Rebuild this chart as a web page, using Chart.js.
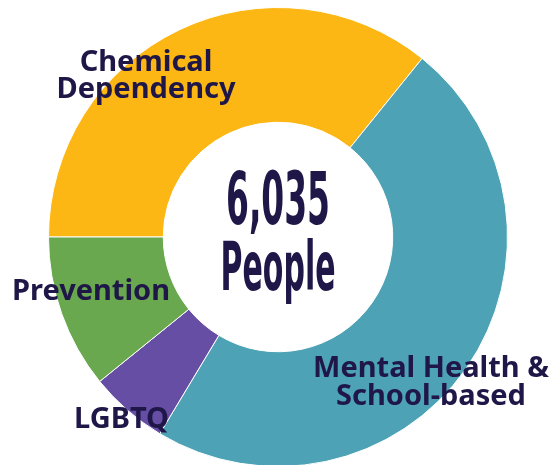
<!DOCTYPE html>
<html>
<head>
<meta charset="utf-8">
<script src="https://cdn.jsdelivr.net/npm/chart.js@4"></script>
<style>
  html, body { margin: 0; padding: 0; background: #fff; overflow: hidden; }
  .chart-container { position: relative; width: 551px; height: 470px; }
</style>
</head>
<body>
<div class="chart-container">
  <canvas id="programsChart"></canvas>
</div>
<script>
// people served per program area
const categories = ['Chemical Dependency', 'Mental Health & School-based', 'LGBTQ', 'Prevention'];
const people = [2161, 2885, 335, 654];
const sliceColors = ['#FDB714', '#4DA2B5', '#664EA5', '#69A84F'];
const centerUnit = 'People';

const textColor = '#1F1747';
const labelFont = 'bold 29px "Noto Sans"';

// where each category's label sits (lines, anchor, alignment)
const labelSpots = [
  { lines: ['Chemical', 'Dependency'], x: 146, y: [71, 98], align: 'center' },
  { lines: ['Mental Health &', 'School-based'], x: 431, y: [377, 405], align: 'center' },
  { lines: ['LGBTQ'], x: 74, y: [428], align: 'left' },
  { lines: ['Prevention'], x: 12, y: [300], align: 'left' }
];

const total = people.reduce((a, b) => a + b, 0);

// condensed headline text: squeeze a bold face to a target width
const drawSqueezed = (ctx, text, cx, baseline, size, width) => {
  ctx.save();
  ctx.font = 'bold ' + size + 'px "DejaVu Sans Condensed"';
  const w = ctx.measureText(text).width;
  ctx.translate(cx, baseline);
  ctx.scale(width / w, 1);
  ctx.textAlign = 'center';
  ctx.textBaseline = 'alphabetic';
  ctx.fillText(text, 0, 0);
  ctx.restore();
};

const labelPlugin = {
  id: 'labelPlugin',
  afterDraw(chart) {
    const ctx = chart.ctx;
    const arc = chart.getDatasetMeta(0).data[0];
    ctx.save();
    ctx.fillStyle = textColor;
    ctx.font = labelFont;
    ctx.textBaseline = 'alphabetic';
    labelSpots.forEach(spot => {
      ctx.textAlign = spot.align;
      spot.lines.forEach((line, i) => ctx.fillText(line, spot.x, spot.y[i]));
    });
    drawSqueezed(ctx, total.toLocaleString('en-US'), arc.x, arc.y - 13, 73, 104);
    drawSqueezed(ctx, centerUnit, arc.x, arc.y + 53, 67, 115);
    ctx.restore();
  }
};

new Chart(document.getElementById('programsChart').getContext('2d'), {
  type: 'doughnut',
  data: {
    labels: categories,
    datasets: [{
      data: people,
      backgroundColor: sliceColors,
      borderColor: '#ffffff',
      borderWidth: 1
    }]
  },
  options: {
    responsive: true,
    maintainAspectRatio: false,
    animation: false,
    rotation: -90,
    cutout: '50%',
    layout: { padding: { top: 7, bottom: 3, left: 48, right: 43 } },
    plugins: {
      legend: { display: false },
      tooltip: { enabled: false }
    }
  },
  plugins: [labelPlugin]
});
</script>
</body>
</html>
